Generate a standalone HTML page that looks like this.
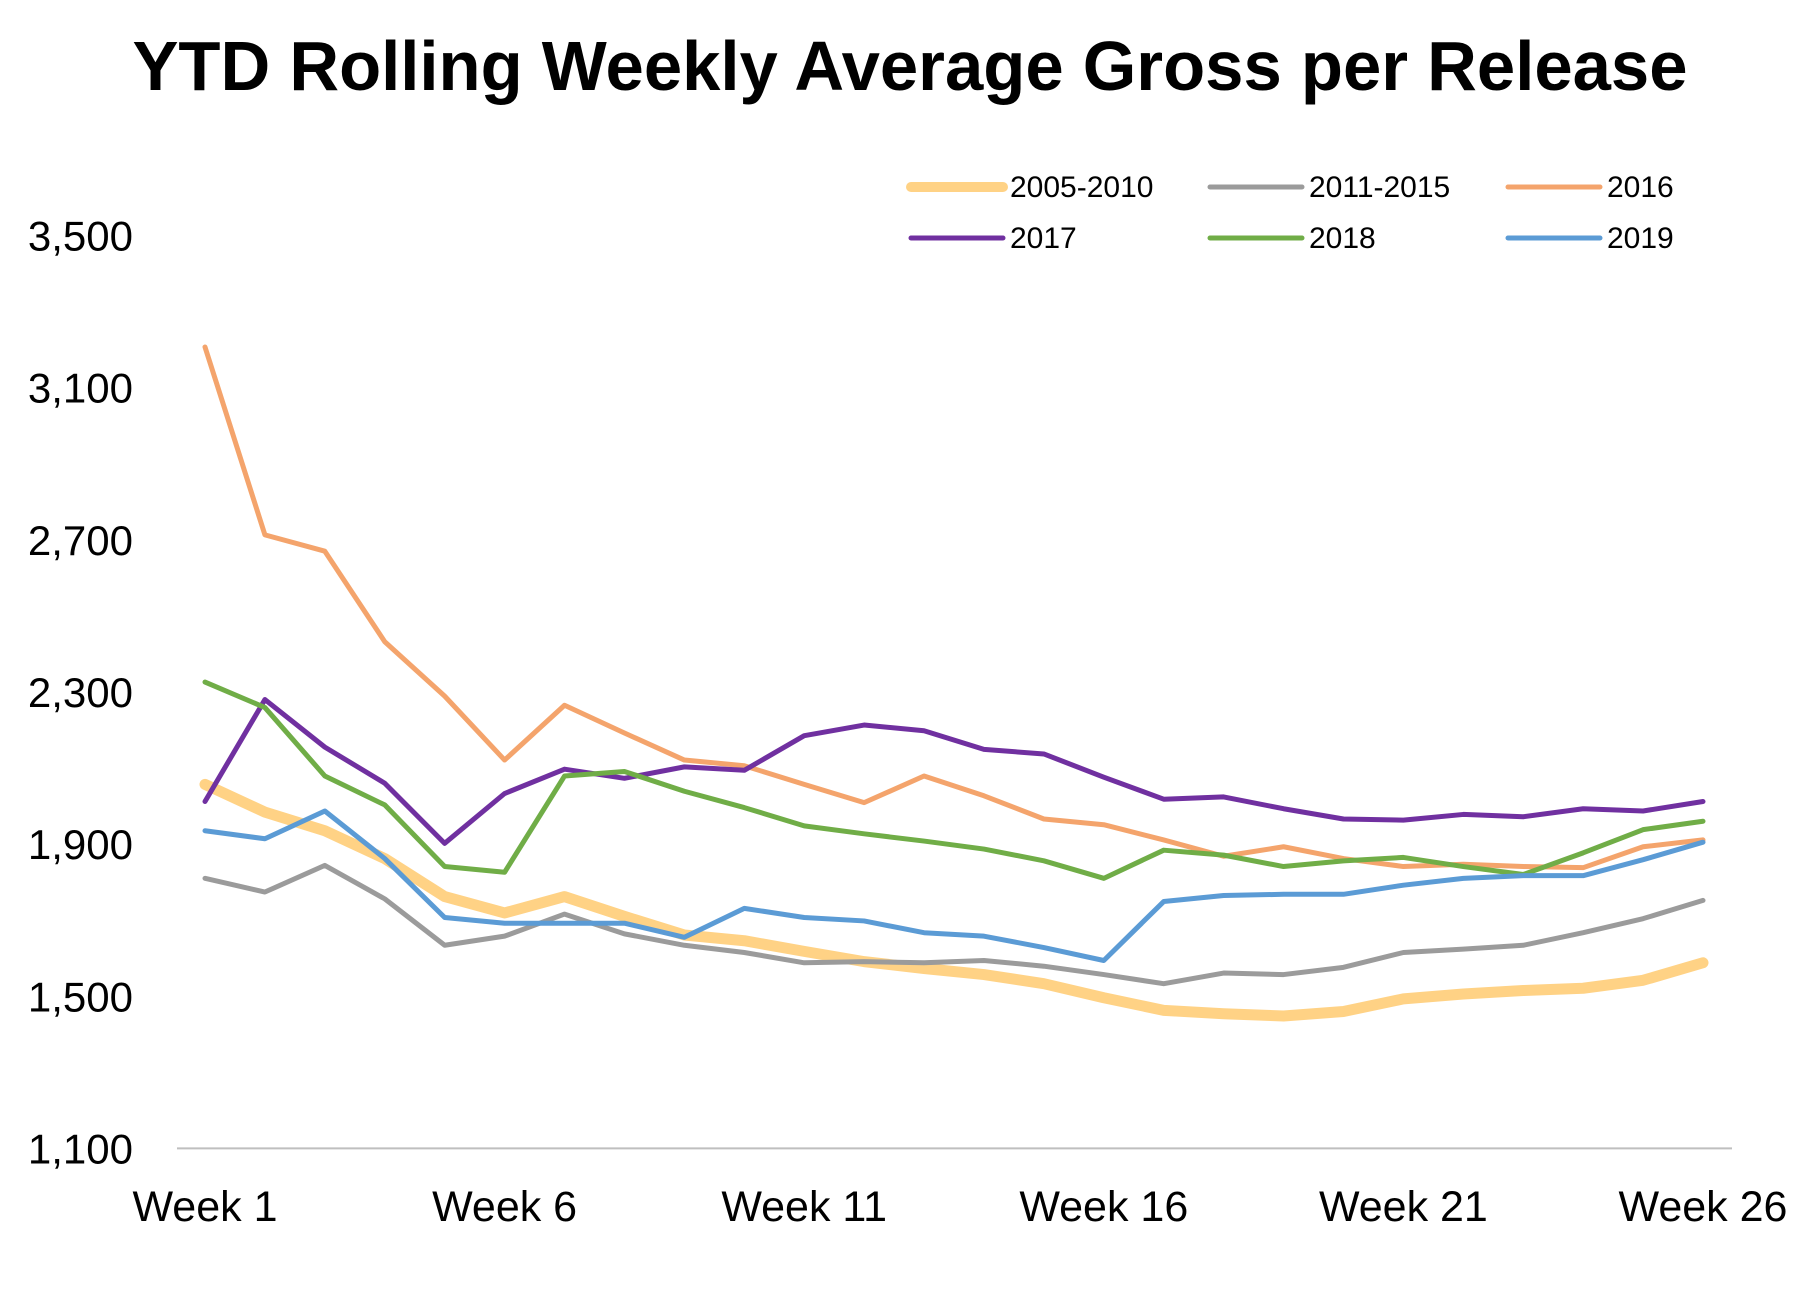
<!DOCTYPE html>
<html><head><meta charset="utf-8"><style>
html,body{margin:0;padding:0;background:#fff;}
svg text{font-family:"Liberation Sans",sans-serif;fill:#000;}
</style></head><body>
<svg id="chart" width="1819" height="1292" viewBox="0 0 1819 1292" xmlns="http://www.w3.org/2000/svg">
<text x="910" y="90" text-anchor="middle" font-size="70" font-weight="bold" textLength="1555" lengthAdjust="spacingAndGlyphs">YTD Rolling Weekly Average Gross per Release</text>
<line x1="177" y1="1148.4" x2="1732" y2="1148.4" stroke="#bfbfbf" stroke-width="2"/>
<g id="yticks"></g><g id="xticks"></g><g id="series"></g><g id="legend"></g>
</svg>
<script>
const weeks = Array.from({length:26},(_,i)=>i+1);
const yTicks = [1100,1500,1900,2300,2700,3100,3500];
const xTickWeeks = [1,6,11,16,21,26];
const seriesNames = ["2005-2010","2011-2015","2016","2017","2018","2019"];
const s2005_2010 = [2057,1984,1935,1862,1762,1719,1762,1710,1661,1646,1618,1591,1573,1557,1533,1496,1463,1454,1448,1460,1493,1506,1515,1521,1542,1588];
const s2011_2015 = [1810,1774,1844,1756,1634,1658,1716,1664,1634,1615,1588,1591,1588,1594,1579,1557,1533,1561,1557,1576,1615,1624,1634,1667,1704,1752];
const s2016 = [3207,2713,2670,2432,2289,2121,2265,2192,2121,2106,2057,2009,2079,2027,1966,1951,1911,1868,1893,1862,1841,1847,1841,1838,1893,1911];
const s2017 = [2012,2280,2155,2060,1902,2033,2097,2073,2103,2094,2185,2213,2198,2149,2137,2076,2018,2024,1993,1966,1963,1978,1972,1993,1987,2012];
const s2018 = [2326,2259,2079,2003,1841,1826,2079,2091,2039,1996,1948,1927,1908,1887,1856,1810,1884,1871,1841,1856,1865,1841,1820,1877,1938,1960];
const s2019 = [1935,1914,1987,1862,1707,1692,1692,1692,1655,1731,1707,1698,1667,1658,1628,1594,1749,1765,1768,1768,1792,1810,1817,1817,1859,1905];

const NS="http://www.w3.org/2000/svg";
const X=w=>205+(w-1)*(1703-205)/25;
const Y=v=>1148.4-(v-1100)*(1148.4-235.5)/2400;
function mk(tag,attrs,parent){const e=document.createElementNS(NS,tag);for(const k in attrs)e.setAttribute(k,attrs[k]);parent.appendChild(e);return e;}
const yg=document.getElementById('yticks');
yTicks.forEach(t=>{const e=mk('text',{x:133,y:Y(t)+15,'text-anchor':'end','font-size':42},yg);


e.textContent=t.toLocaleString('en-US');});
const xg=document.getElementById('xticks');
xTickWeeks.forEach(w=>{const e=mk('text',{x:X(w),y:1221,'text-anchor':'middle','font-size':43},xg);


e.textContent='Week '+w;});
const data=[s2005_2010,s2011_2015,s2016,s2017,s2018,s2019];
const colors=["#ffd285","#9b9b9b","#f4a46c","#7030a0","#70ad47","#5b9bd5"];
const widths=[11,5,5,5,5,5];
const sg=document.getElementById('series');
data.forEach((d,i)=>{const p=mk('polyline',{points:d.map((v,j)=>X(weeks[j])+','+Y(v)).join(' '),fill:'none',stroke:colors[i],'stroke-width':widths[i],'stroke-linejoin':'round','stroke-linecap':'round'},sg);

});
const lg=document.getElementById('legend');
const lx=[911,1210,1508], ly=[187,238];
seriesNames.forEach((n,i)=>{const c=i%3,r=Math.floor(i/3);
const g=mk('g',{},lg);


mk('line',{x1:lx[c],y1:ly[r],x2:lx[c]+92,y2:ly[r],stroke:colors[i],'stroke-width':i==0?10:5,'stroke-linecap':'round'},g);
const t=mk('text',{x:lx[c]+99,y:ly[r]+10,'font-size':30},g);t.textContent=n;});
</script>
</body></html>
